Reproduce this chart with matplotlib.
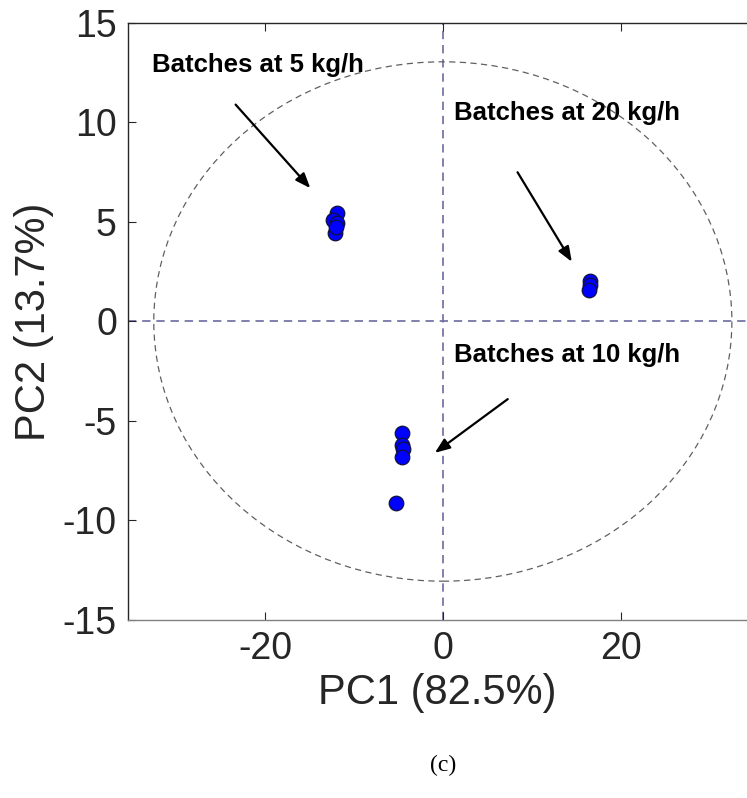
"""
PCA score plot: three batch groups with a confidence ellipse
"""
import numpy as np
import matplotlib
matplotlib.use("Agg")
import matplotlib.pyplot as plt
from matplotlib.patches import Ellipse

# scores
pc1 = [-11.9, -12.4, -11.9, -12.1, -12.0,
       16.6, 16.5, 16.4,
       -4.6, -4.6, -4.5, -4.6, -5.3]
pc2 = [5.43, 5.09, 4.94, 4.44, 4.75,
       2.02, 1.83, 1.58,
       -5.59, -6.19, -6.39, -6.81, -9.11]

labels = ["Batches at 5 kg/h", "Batches at 20 kg/h", "Batches at 10 kg/h"]
label_xy = [(-32.7, 12.9), (1.2, 10.5), (1.2, -1.7)]
arrow_tail = [(-23.3, 10.9), (8.4, 7.5), (7.3, -3.9)]
arrow_head = [(-14.9, 6.7), (14.5, 3.0), (-0.9, -6.6)]

ellipse_w, ellipse_h = 32.5, 13.05
xticks = [-20, 0, 20]
yticks = [-15, -10, -5, 0, 5, 10, 15]

plt.rcParams['font.family'] = ['Liberation Sans', 'DejaVu Sans']
plt.rcParams['axes.unicode_minus'] = False

fig = plt.figure(figsize=(7.47, 7.98), dpi=100)
ax = fig.add_axes([128 / 747, 1 - 620 / 798, 1 - 128 / 747, (620 - 23) / 798])

ax.axhline(0, color='#6b6b9e', ls=(0, (5, 3.5)), lw=1.2, zorder=1)
ax.axvline(0, color='#6b6b9e', ls=(0, (5, 3.5)), lw=1.2, zorder=1)
ax.add_patch(Ellipse((0, 0), 2 * ellipse_w, 2 * ellipse_h, fill=False,
                     ec='#606060', ls=(0, (5, 3.5)), lw=0.9, zorder=1))

ax.scatter(pc1, pc2, s=110, c='#0000ff', edgecolors='#101040', lw=0.9, zorder=3)

for txt, xy, tail, head in zip(labels, label_xy, arrow_tail, arrow_head):
    ax.text(xy[0], xy[1], txt, fontsize=18.5, fontweight='bold', va='center', ha='left')
    ax.annotate('', xy=head, xytext=tail,
                arrowprops=dict(arrowstyle='-|>,head_length=0.9,head_width=0.35',
                                color='black', lw=1.6, shrinkA=0, shrinkB=0))

ax.set_xlim(-35.4, 34.2)
ax.set_ylim(-15, 15)
ax.set_xticks(xticks)
ax.set_yticks(yticks)
ax.tick_params(direction='in', length=6, labelsize=27, colors='#262626',
               top=True, right=False, pad=8)
ax.spines['right'].set_visible(False)
ax.spines['bottom'].set_color('#808080')
for s in ['left', 'top']:
    ax.spines[s].set_color('#262626')
for s in ax.spines.values():
    s.set_linewidth(1.0)

ax.set_xlabel('PC1 (82.5%)', fontsize=30, color='#262626', labelpad=4)
ax.set_ylabel('PC2 (13.7%)', fontsize=30, color='#262626', labelpad=6)

fig.text(443 / 747, 1 - 765 / 798, '(c)', fontsize=17, ha='center', va='center',
         family='Liberation Serif')

fig.savefig('out.png', dpi=100)
